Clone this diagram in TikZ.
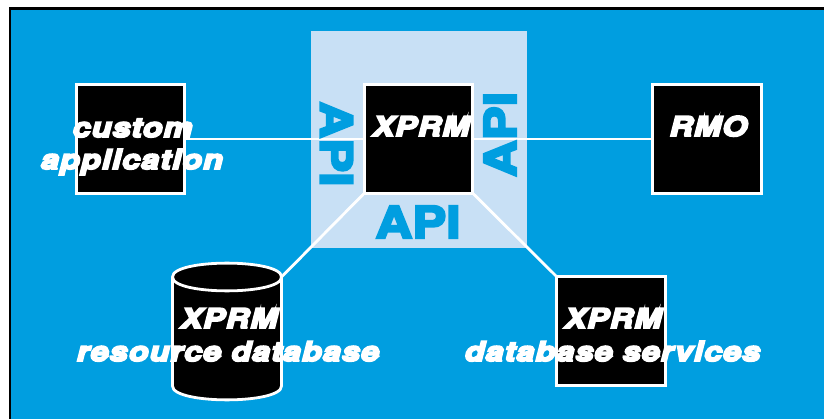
\documentclass[tikz,border=0pt]{standalone}
\usepackage{fontspec}
\newfontfamily\heavyit[FakeBold=7,FakeStretch=1.2,LetterSpace=4]{TeX Gyre Heros Bold Italic}
\newfontfamily\apifont[FakeBold=5,FakeStretch=1.16]{TeX Gyre Heros Bold}
\definecolor{bgblue}{HTML}{009EE0}
\definecolor{panel}{HTML}{C8E0F5}
\tikzset{
  box/.style={draw=white,line width=2.8pt,fill=black,minimum width=108.5pt,minimum height=108.5pt,inner sep=0pt,outer sep=0pt},
  conn/.style={draw=white,line width=2.8pt},
  label/.style={text=white,anchor=base,inner sep=0pt,font=\heavyit\fontsize{27}{27}\selectfont},
  apilabel/.style={text=bgblue,inner sep=0pt,font=\apifont\fontsize{44}{44}\selectfont}
}
\begin{document}
\begin{tikzpicture}[x=1pt,y=-1pt]
\useasboundingbox (0,0) rectangle (824,419);
\clip (0,0) rectangle (824,419);
\fill[white] (0,0) rectangle (824,419);
\draw[black,line width=2.6pt,fill=bgblue] (10,8.5) rectangle (840,440);
\node[fill=panel,minimum width=216pt,minimum height=217pt,inner sep=0pt,outer sep=0pt] (panelbox) at (419,139.5) {};
\node[box] (custom) at (130.5,139) {};
\node[box] (core) at (418.5,139) {};
\node[box] (rmo) at (707,139) {};
\node[box] (dbserv) at (611,331) {};
\coordinate (cyltr) at (281.5,277);
\coordinate (cyltl) at (172.5,277);
\coordinate (cylbr) at (281.5,386);
\coordinate (cylbl) at (172.5,386);
\draw[conn] (custom.east |- custom.center) -- (core.west);
\draw[conn] (core.east) -- (rmo.west);
\draw[conn] (core.south west) -- (cyltr);
\draw[conn] (core.south east) -- (dbserv.north west);
\draw[conn,fill=black] (cyltl) -- (cylbl) .. controls (172.5,404.5) and (281.5,404.5) .. (cylbr) -- (cyltr) .. controls (281.5,258.5) and (172.5,258.5) .. (cyltl) .. controls (172.5,295.5) and (281.5,295.5) .. (cyltr);
\node[apilabel] (apibottom) at (418,222) {API};
\node[apilabel,rotate=-90] (apileft) at (336.5,144) {API};
\node[apilabel,rotate=90] (apiright) at (500,134.5) {API};
\node[label] (t1) at (132.5,137) {custom};
\node[label] (t2) at (132,169) {application};
\node[label] (t3) at (421,136) {XPRM};
\node[label] (t4) at (708.5,136) {RMO};
\node[label] (t5) at (229,328) {XPRM};
\node[label] (t6) at (228,361) {resource database};
\node[label] (t7) at (613,328) {XPRM};
\node[label] (t8) at (612.5,361) {database services};
\end{tikzpicture}
\end{document}
